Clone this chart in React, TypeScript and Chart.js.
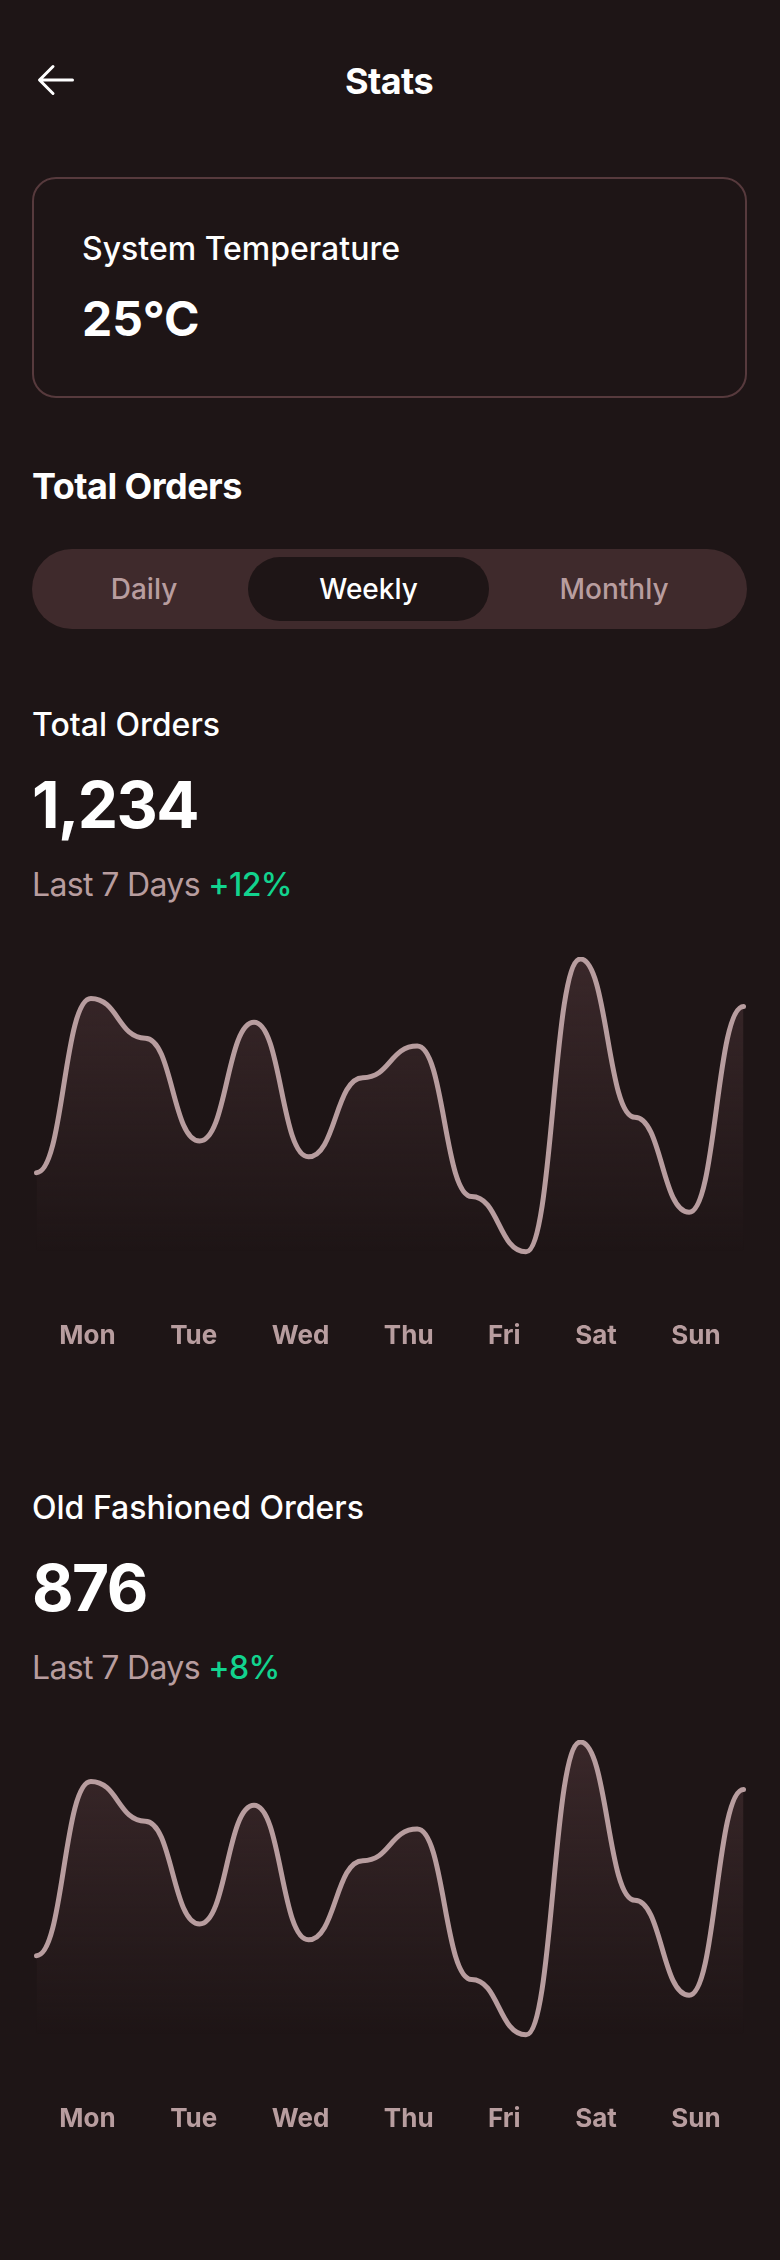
import React, { useEffect, useRef } from "react";
import { Chart, registerables } from "chart.js";

Chart.register(...registerables);

// ---------- data ----------
const days = ["Mon", "Tue", "Wed", "Thu", "Fri", "Sat", "Sun"];
// two samples per day across the week (14 points)
const totalOrdersSeries = [41, 129, 109, 57, 117, 49, 89, 105, 29, 1, 149, 69, 21, 125];
const oldFashionedSeries = [41, 129, 109, 57, 117, 49, 89, 105, 29, 1, 149, 69, 21, 125];
const periods = ["Daily", "Weekly", "Monthly"];
const selectedPeriod = "Weekly";

const Y_MAX = 150;
const FILL_BASE = 1;
const X_PAD = 3 / (472 / 13);

const C = {
  bg: "#1e1516",
  muted: "#b89d9f",
  border: "#573a3d",
  pill: "#3f2a2c",
  green: "#12d38e",
  white: "#ffffff",
};

const FONT = 'Inter, "Noto Sans", "DejaVu Sans", sans-serif';
Chart.defaults.font.family = FONT;

// horizontal tangents at every sample (smooth wave like the design)
const flatTangentPlugin = {
  id: "flatTangents",
  beforeDatasetsDraw(chart: any) {
    chart.getSortedVisibleDatasetMetas().forEach((meta: any) => {
      const line = meta.dataset;
      if (!line) return;
      line.updateControlPoints(chart.chartArea, meta.indexAxis);
      const pts = meta.data;
      pts.forEach((p: any, i: number) => {
        const prev = pts[i - 1];
        const next = pts[i + 1];
        p.cp1x = prev ? (prev.x + p.x) / 2 : p.x;
        p.cp1y = p.y;
        p.cp2x = next ? (p.x + next.x) / 2 : p.x;
        p.cp2y = p.y;
      });
      line._path = undefined;
    });
  },
};

const TICK_FONT = { family: FONT, size: 26, weight: "bold" as const };

// spread day labels like a justify-around row
function justifyAroundTicks(scale: any) {
  const W = scale.width || scale.maxWidth || 1;
  const ctx = scale.ctx;
  ctx.save();
  ctx.font = `bold ${TICK_FONT.size}px ${FONT}`;
  const widths = days.map((d) => ctx.measureText(d).width);
  ctx.restore();
  const total = widths.reduce((a, b) => a + b, 0);
  const space = (W - total) / days.length;
  let cursor = space / 2;
  const ticks: { value: number }[] = [];
  widths.forEach((w) => {
    ticks.push({ value: (cursor + w / 2) / W });
    cursor += w + space;
  });
  scale.ticks = ticks;
}

function noSidePadding(scale: any) {
  scale.paddingLeft = 0;
  scale.paddingRight = 0;
}

function OrdersChart({ series }: { series: number[] }) {
  const ref = useRef<HTMLCanvasElement>(null);
  useEffect(() => {
    const canvas = ref.current;
    if (!canvas) return;
    const top = Math.max(...series);
    const chart = new Chart(canvas, {
      type: "line",
      data: {
        datasets: [
          {
            data: series.map((v, i) => ({ x: i, y: v })),
            xAxisID: "x",
            yAxisID: "y",
            borderColor: C.muted,
            borderWidth: 5,
            borderCapStyle: "round",
            borderJoinStyle: "round",
            tension: 0.4,
            pointRadius: 0,
            pointHoverRadius: 0,
            clip: false,
            fill: { value: FILL_BASE },
            backgroundColor: (ctx: any) => {
              const ch = ctx.chart;
              if (!ch.chartArea) return "rgba(56,41,41,0.6)";
              const ys = ch.scales.y;
              const g = ch.ctx.createLinearGradient(
                0,
                ys.getPixelForValue(top),
                0,
                ys.getPixelForValue(FILL_BASE)
              );
              g.addColorStop(0, "rgba(58,40,42,1)");
              g.addColorStop(1, "rgba(58,40,42,0)");
              return g;
            },
          } as any,
        ],
      },
      options: {
        responsive: true,
        maintainAspectRatio: false,
        animation: false,
        events: [],
        layout: { padding: 0 },
        plugins: {
          legend: { display: false },
          tooltip: { enabled: false },
        },
        scales: {
          x: {
            type: "linear",
            display: false,
            min: -X_PAD,
            max: series.length - 1 + X_PAD,
          },
          y: { type: "linear", display: false, min: 0, max: Y_MAX },
          days: {
            type: "linear",
            position: "bottom",
            min: 0,
            max: 1,
            grid: { display: false, drawTicks: false },
            border: { display: false },
            afterBuildTicks: justifyAroundTicks,
            afterFit: noSidePadding,
            ticks: {
              autoSkip: false,
              maxRotation: 0,
              minRotation: 0,
              padding: 67,
              color: C.muted,
              font: TICK_FONT,
              callback: (_v: any, i: number) => days[i],
            },
          },
        } as any,
      },
      plugins: [flatTangentPlugin],
    });
    return () => chart.destroy();
  }, [series]);
  return <canvas ref={ref} />;
}

function OrdersSection({
  title,
  total,
  change,
  series,
  top,
}: {
  title: string;
  total: string;
  change: string;
  series: number[];
  top: number;
}) {
  return (
    <div style={{ position: "absolute", left: 0, top, width: 780, height: 783 }}>
      <div
        style={{
          position: "absolute",
          left: 32,
          top: 0,
          fontSize: 32,
          lineHeight: "48px",
          fontWeight: 500,
          color: C.white,
          whiteSpace: "nowrap",
        }}
      >
        {title}
      </div>
      <div
        style={{
          position: "absolute",
          left: 32,
          top: 64,
          fontSize: 64,
          lineHeight: "80px",
          fontWeight: 700,
          color: C.white,
          letterSpacing: "-0.025em",
        }}
      >
        {total}
      </div>
      <div
        style={{
          position: "absolute",
          left: 32,
          top: 160,
          fontSize: 32,
          lineHeight: "48px",
          fontWeight: 400,
          color: C.muted,
          whiteSpace: "nowrap",
          letterSpacing: "-0.02em",
        }}
      >
        Last 7 Days <span style={{ color: C.green, fontWeight: 500 }}>{change}</span>
      </div>
      <div style={{ position: "absolute", left: 32, top: 256, width: 716, height: 462 }}>
        <OrdersChart series={series} />
      </div>
    </div>
  );
}

export default function App() {
  useEffect(() => {
    document.body.style.margin = "0";
    document.body.style.background = C.bg;
  }, []);
  return (
    <div
      style={{
        position: "absolute",
        left: 0,
        top: 0,
        width: 780,
        height: 2260,
        background: C.bg,
        fontFamily: FONT,
        overflow: "hidden",
      }}
    >
      {/* header */}
      <svg
        width={48}
        height={48}
        viewBox="0 0 256 256"
        style={{ position: "absolute", left: 32, top: 56 }}
        fill={C.white}
      >
        <path d="M224,128a8,8,0,0,1-8,8H59.31l58.35,58.34a8,8,0,0,1-11.32,11.32l-72-72a8,8,0,0,1,0-11.32l72-72a8,8,0,0,1,11.32,11.32L59.31,120H216A8,8,0,0,1,224,128Z" />
      </svg>
      <div
        style={{
          position: "absolute",
          left: 0,
          top: 57,
          width: 778,
          textAlign: "center",
          fontSize: 36,
          lineHeight: "48px",
          fontWeight: 700,
          color: C.white,
          letterSpacing: "-0.015em",
        }}
      >
        Stats
      </div>

      {/* temperature card */}
      <div
        style={{
          position: "absolute",
          left: 32,
          top: 177,
          width: 715,
          height: 221,
          boxSizing: "border-box",
          border: `2px solid ${C.border}`,
          borderRadius: 24,
        }}
      >
        <div
          style={{
            position: "absolute",
            left: 48,
            top: 46,
            fontSize: 32,
            lineHeight: "48px",
            fontWeight: 500,
            color: C.white,
            whiteSpace: "nowrap",
          }}
        >
          System Temperature
        </div>
        <div
          style={{
            position: "absolute",
            left: 48,
            top: 110,
            fontSize: 48,
            lineHeight: "60px",
            fontWeight: 700,
            color: C.white,
          }}
        >
          25°C
        </div>
      </div>

      {/* Total Orders heading */}
      <div
        style={{
          position: "absolute",
          left: 32,
          top: 464,
          fontSize: 36,
          lineHeight: "45px",
          fontWeight: 700,
          color: C.white,
          letterSpacing: "-0.015em",
        }}
      >
        Total Orders
      </div>

      {/* segmented control */}
      <div
        style={{
          position: "absolute",
          left: 32,
          top: 549,
          width: 715,
          height: 80,
          boxSizing: "border-box",
          padding: 8,
          borderRadius: 40,
          background: C.pill,
          display: "flex",
        }}
      >
        {periods.map((p, i) => {
          const sel = p === selectedPeriod;
          const w = i === 0 ? 208 : i === 1 ? 241 : undefined;
          return (
            <div
              key={p}
              style={{
                width: w,
                flex: w ? "none" : 1,
                height: 64,
                lineHeight: "64px",
                textAlign: "center",
                fontSize: 28,
                fontWeight: 500,
                borderRadius: 32,
                background: sel ? C.bg : "transparent",
                color: sel ? C.white : C.muted,
              }}
            >
              {p}
            </div>
          );
        })}
      </div>

      <OrdersSection
        title="Total Orders"
        total="1,234"
        change="+12%"
        series={totalOrdersSeries}
        top={701}
      />
      <OrdersSection
        title="Old Fashioned Orders"
        total="876"
        change="+8%"
        series={oldFashionedSeries}
        top={1484}
      />
    </div>
  );
}
